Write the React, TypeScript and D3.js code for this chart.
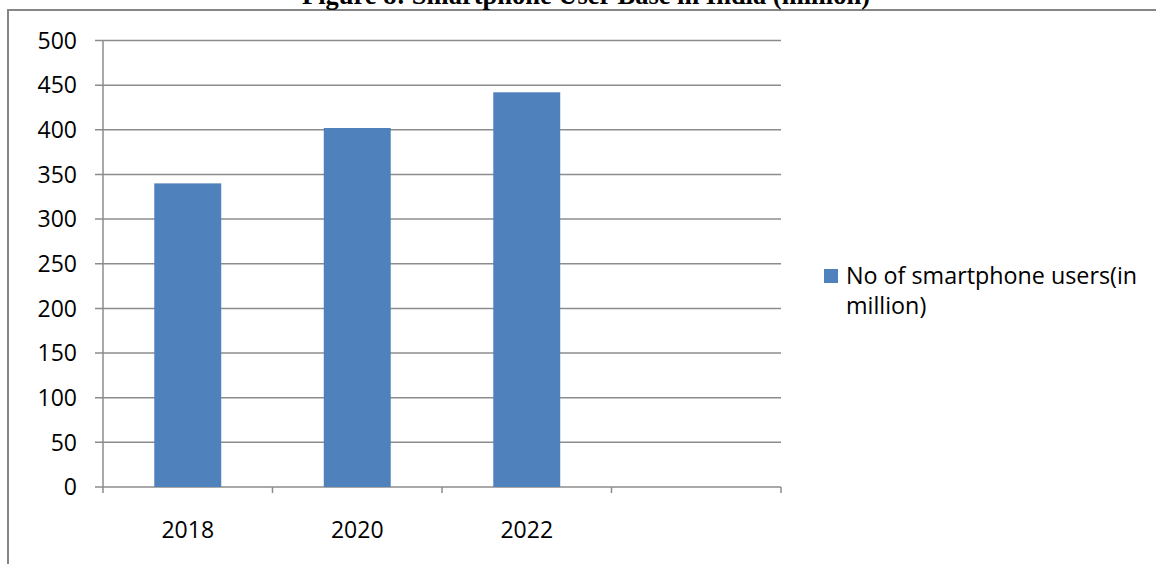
import React from "react";
import * as d3 from "d3";

const categories = ["2018", "2020", "2022", ""];
const users = [340, 402, 442, null];
const yTicks = [0, 50, 100, 150, 200, 250, 300, 350, 400, 450, 500];
const seriesName = ["No of smartphone users(in", "million)"];
const title = "Figure 8: Smartphone User Base in India (million)";

export default function App() {
  const W = 1156, H = 564;
  const left = 103, right = 781, top = 40.5, bottom = 487;
  const x = d3.scaleBand<string>().domain(categories.map((c, i) => String(i))).range([left, right]).padding(0);
  const y = d3.scaleLinear().domain([0, 500]).range([bottom, top]);
  const bw = x.bandwidth() * 0.395;
  const grid = "#8c8c8c";
  const font = "'Open Sans', 'Noto Sans', sans-serif";
  const boundaries = d3.range(categories.length + 1).map((i) => left + i * x.step());

  return (
    <svg width={W} height={H} style={{ position: "absolute", left: 0, top: 0, background: "#fff" }}>
      <rect x={8} y={10} width={1300} height={700} fill="none" stroke="#868686" strokeWidth={2} />
      <text x={586} y={4} textAnchor="middle" fontFamily="'Liberation Serif', 'Times New Roman', serif" fontWeight="bold" fontSize={26.5}>
        {title}
      </text>
      {yTicks.map((t) => (
        <g key={t}>
          <line x1={95} x2={right} y1={y(t)} y2={y(t)} stroke={grid} strokeWidth={1.5} />
          <text x={77} y={y(t)} dy="0.36em" textAnchor="end" fontFamily={font} fontSize={23} fill="#000">
            {t}
          </text>
        </g>
      ))}
      <line x1={left} x2={left} y1={top} y2={bottom} stroke={grid} strokeWidth={1.5} />
      {boundaries.map((bx, i) => (
        <line key={i} x1={bx} x2={bx} y1={bottom} y2={bottom + 6} stroke={grid} strokeWidth={1.5} />
      ))}
      {categories.map((c, i) => {
        const v = users[i];
        const cx = (x(String(i)) as number) + x.bandwidth() / 2;
        return (
          <g key={i}>
            {v != null && (
              <rect x={cx - bw / 2} y={y(v)} width={bw} height={bottom - y(v)} fill="#4F81BD" />
            )}
            <text x={cx} y={538} textAnchor="middle" fontFamily={font} fontSize={23} fill="#000">
              {c}
            </text>
          </g>
        );
      })}
      <rect x={824} y={269} width={14} height={14} fill="#4F81BD" />
      {seriesName.map((s, i) => (
        <text key={i} x={846} y={284 + i * 30} fontFamily={font} fontSize={23.3} fill="#000">
          {s}
        </text>
      ))}
    </svg>
  );
}
